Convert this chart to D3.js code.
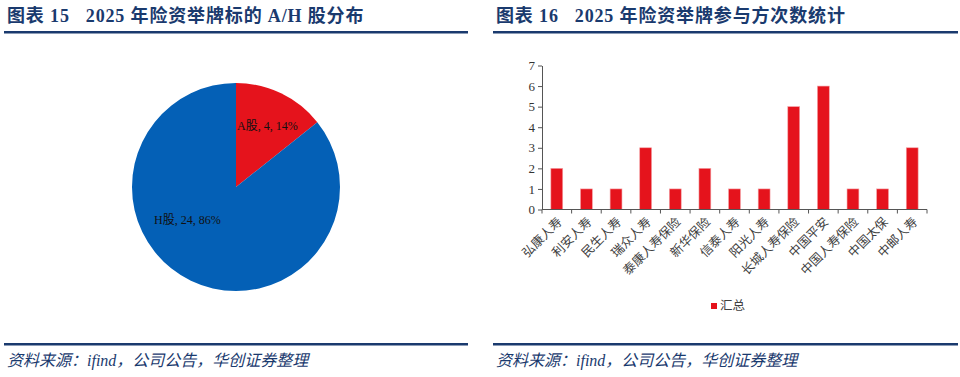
<!DOCTYPE html>
<html>
<head>
<meta charset="utf-8">
<script src="https://cdn.jsdelivr.net/npm/d3@7"></script>
<style>
  body { margin: 0; background: #fff; }
  svg { display: block; }
  .serif { font-family: "Liberation Serif", "Noto Sans CJK SC", serif; white-space: pre; }
</style>
</head>
<body>
<svg id="chart" width="960" height="377"></svg>
<script>
// --- data ---
const shareLabels = ["A股", "H股"];
const shareCounts = [4, 24];
const sharePct = ["14%", "86%"];

const insurers = ["弘康人寿", "利安人寿", "民生人寿", "瑞众人寿", "泰康人寿保险", "新华保险", "信泰人寿",
                  "阳光人寿", "长城人寿保险", "中国平安", "中国人寿保险", "中国太保", "中邮人寿"];
const counts = [2, 1, 1, 3, 1, 2, 1, 1, 5, 6, 1, 1, 3];
const yTicks = [0, 1, 2, 3, 4, 5, 6, 7];

const titles = ["图表 15   2025 年险资举牌标的 A/H 股分布", "图表 16   2025 年险资举牌参与方次数统计"];
const source = "资料来源：ifind，公司公告，华创证券整理";

const navy = "#1a3a6e", red = "#e5131c", blue = "#0460b6";
const svg = d3.select("#chart");

// --- frames: titles, rules, sources ---
[[4, 468], [493, 958]].forEach(([x0, x1], i) => {
    svg.append("text").attr("class", "serif").attr("x", x0 + 3).attr("y", 22)
       .attr("font-size", 18).attr("letter-spacing", 0.85).attr("font-weight", "bold").attr("fill", navy).text(titles[i]);
    svg.append("rect").attr("x", x0).attr("y", 31).attr("width", x1 - x0).attr("height", 2.5).attr("fill", navy);
    svg.append("rect").attr("x", x0).attr("y", 343).attr("width", x1 - x0).attr("height", 2.5).attr("fill", navy);
    svg.append("text").attr("class", "serif").attr("x", x0 + 3).attr("y", 366)
       .attr("font-size", 16).attr("font-style", "italic").attr("fill", navy).text(source);
});

// --- pie ---
const pieG = svg.append("g").attr("transform", "translate(236,187)");
const arcs = d3.pie().sort(null)(shareCounts);
const arc = d3.arc().innerRadius(0).outerRadius(104);
pieG.selectAll("path").data(arcs).join("path")
    .attr("d", arc).attr("fill", (d, i) => i === 0 ? red : blue);
const labelPos = [[1, -61], [-82, 33]];
pieG.selectAll("text.lbl").data(arcs).join("text").attr("class", "serif lbl")
    .attr("x", (d, i) => labelPos[i][0]).attr("y", (d, i) => labelPos[i][1])
    .attr("dy", "0.35em").attr("font-size", 12).attr("fill", "#111")
    .text((d, i) => `${shareLabels[i]}, ${shareCounts[i]}, ${sharePct[i]}`);

// --- bar chart ---
const x = d3.scaleBand().domain(insurers).range([542, 927]).paddingInner(0.6).paddingOuter(0.3);
const y = d3.scaleLinear().domain([0, 7]).range([209.5, 65.5]);

const g = svg.append("g");
g.selectAll("rect.bar").data(counts).join("rect").attr("class", "bar")
    .attr("x", (d, i) => x(insurers[i])).attr("y", d => y(d))
    .attr("width", x.bandwidth()).attr("height", d => y(0) - y(d))
    .attr("fill", red).attr("stroke", "#f4a0a4").attr("stroke-width", 0.6);

const yAxis = g.append("g").attr("transform", "translate(542,0)")
    .call(d3.axisLeft(y).tickValues(yTicks).tickFormat(d3.format("d")).tickSize(4).tickSizeOuter(0));
yAxis.selectAll("text").attr("class", "serif").attr("font-size", 13).attr("fill", "#333");

const step = x.step();
const xAxis = g.append("g").attr("transform", `translate(0,${y(0)})`);
xAxis.append("line").attr("x1", 542).attr("x2", 927).attr("stroke", "#555");
xAxis.selectAll("line.tk").data(d3.range(insurers.length + 1)).join("line").attr("class", "tk")
    .attr("x1", i => 542 + i * step).attr("x2", i => 542 + i * step).attr("y2", 4).attr("stroke", "#555");
xAxis.selectAll("text").data(insurers).join("text").attr("class", "serif")
    .attr("transform", d => `translate(${x(d) + x.bandwidth() / 2 + 3},10) rotate(-45)`)
    .attr("text-anchor", "end").attr("dy", "0.35em")
    .attr("font-size", 12.5).attr("fill", "#404040").text(d => d);
g.selectAll(".domain, .tick line").attr("stroke", "#555");

// legend
svg.append("rect").attr("x", 711).attr("y", 303).attr("width", 6).attr("height", 6).attr("fill", red);
svg.append("text").attr("class", "serif").attr("x", 720).attr("y", 306).attr("dy", "0.35em")
   .attr("font-size", 12.5).attr("fill", "#404040").text("汇总");
</script>
</body>
</html>
